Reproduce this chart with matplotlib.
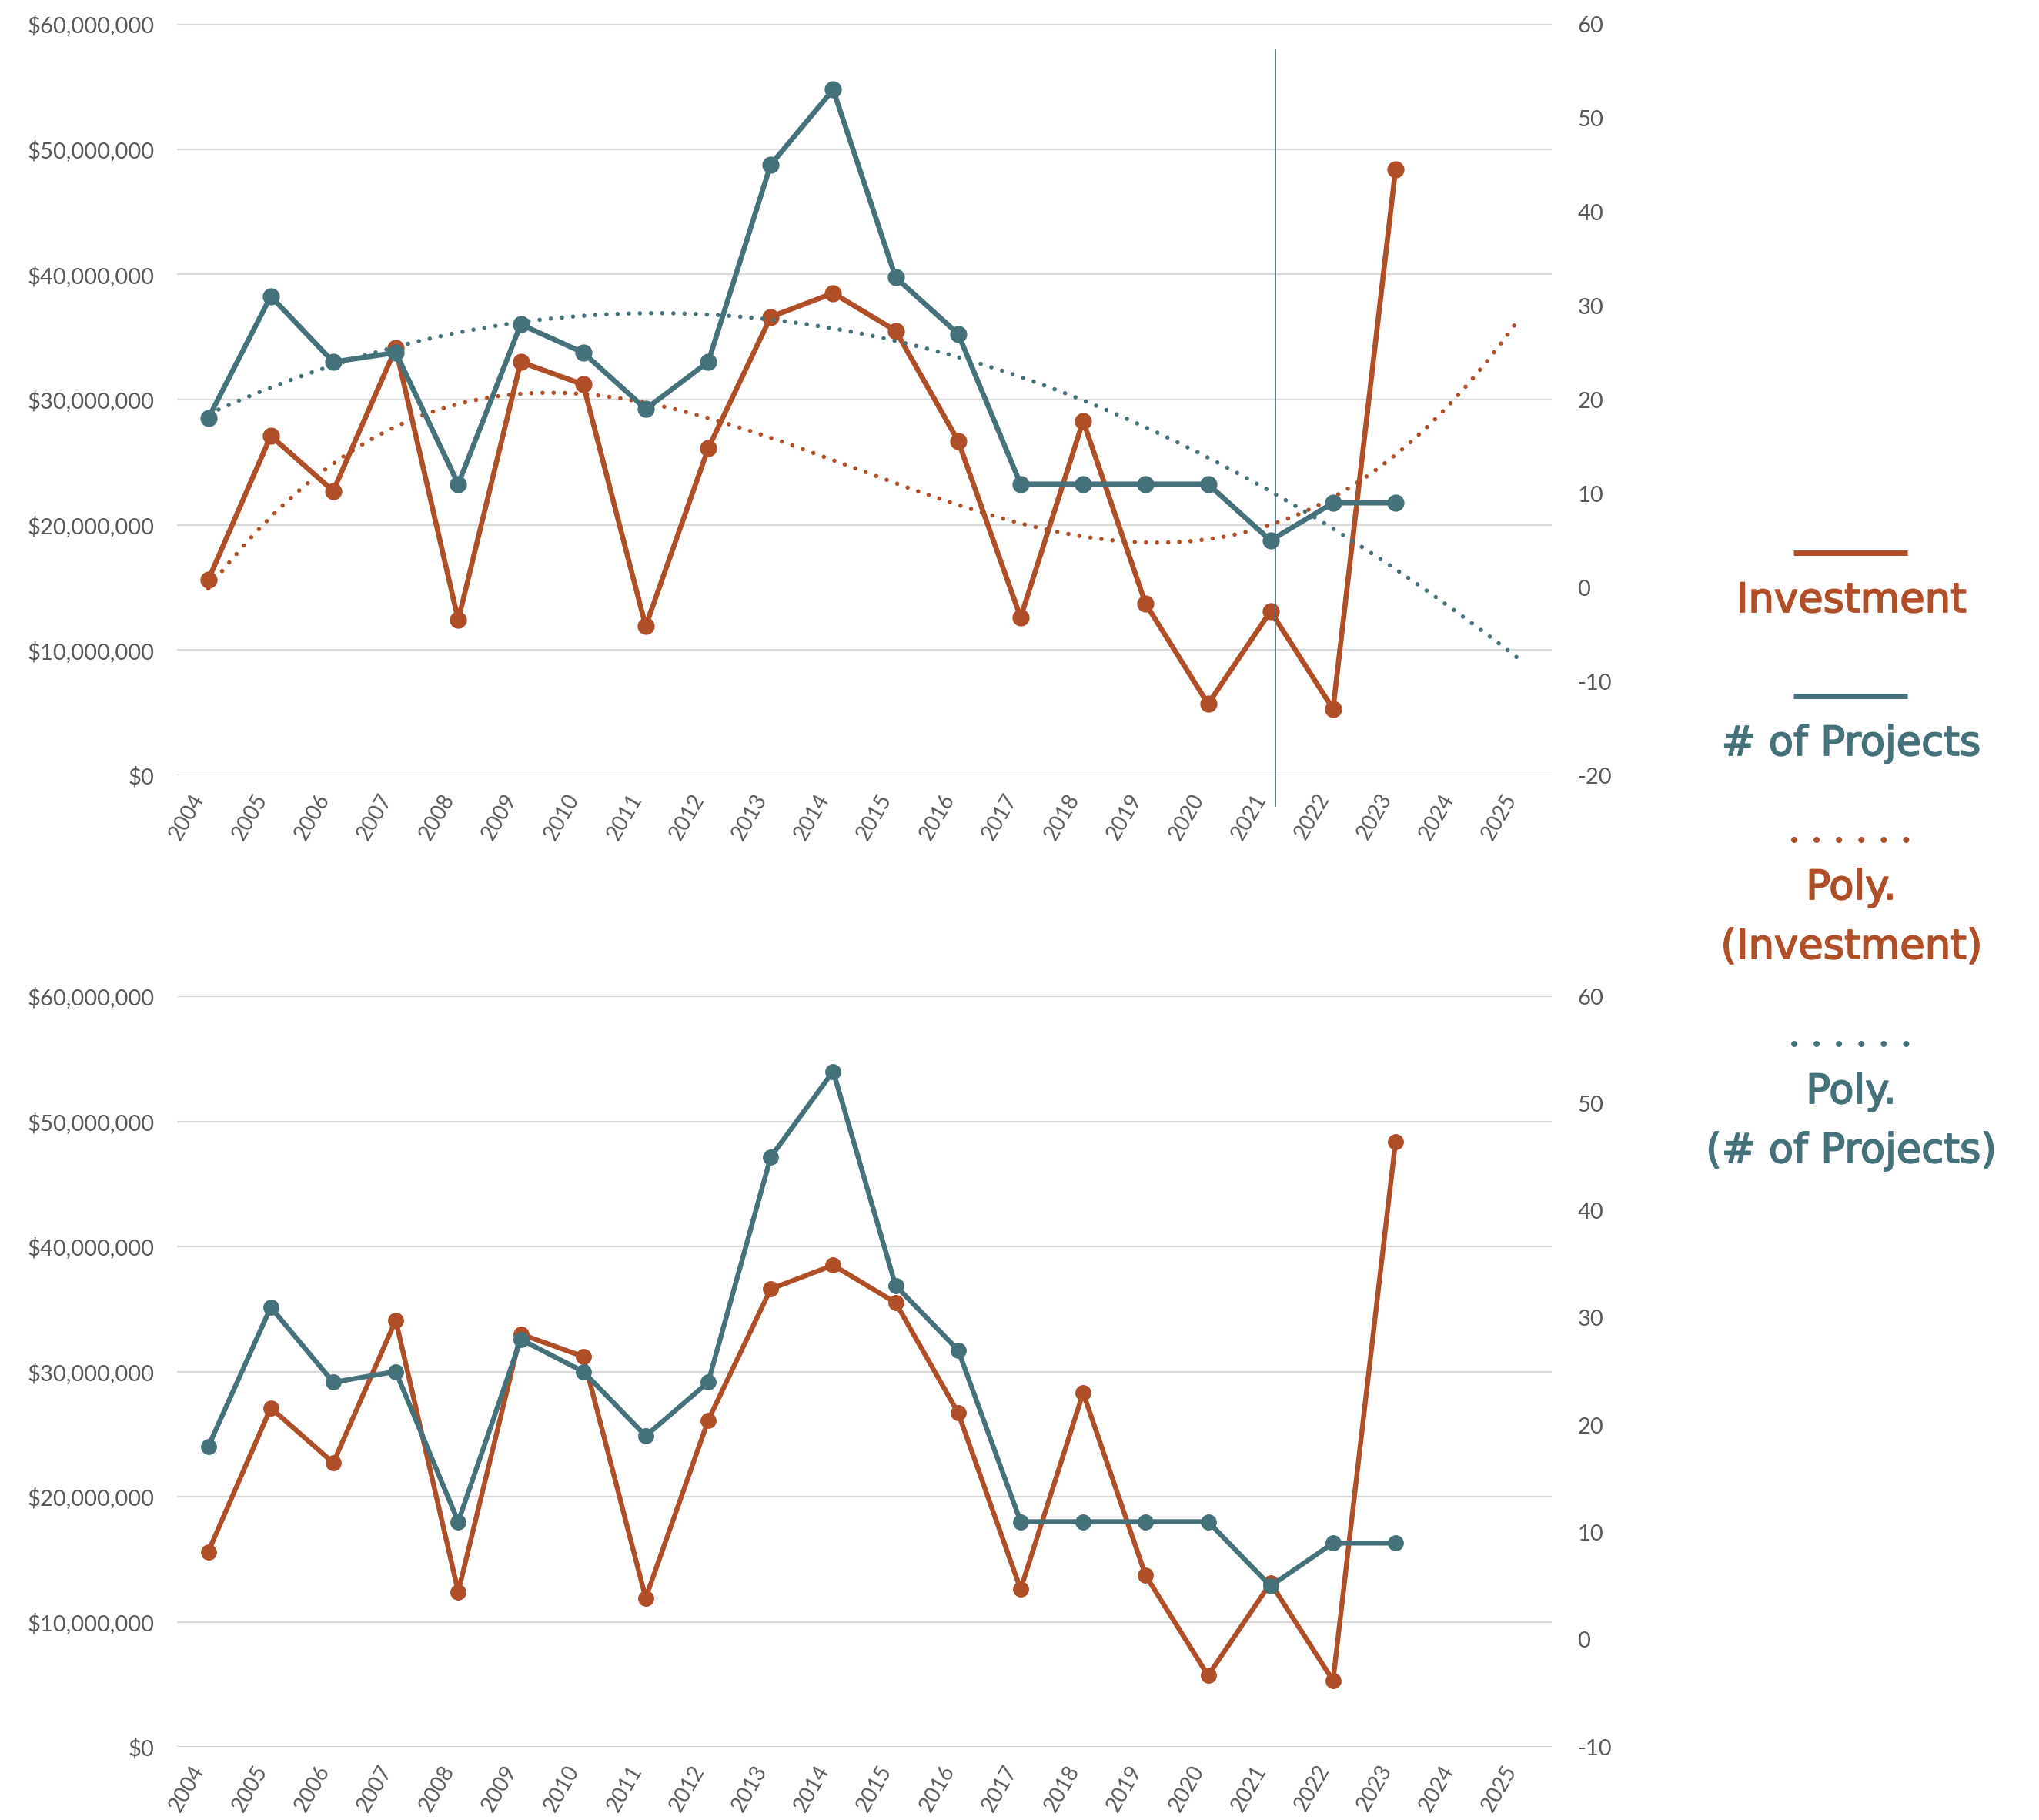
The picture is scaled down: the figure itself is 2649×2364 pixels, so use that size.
import numpy as np
import matplotlib.pyplot as plt
import matplotlib.patheffects as pe
from matplotlib.ticker import FuncFormatter, MultipleLocator
from matplotlib.transforms import ScaledTranslation

# data
years = ["2004", "2005", "2006", "2007", "2008", "2009", "2010", "2011",
         "2012", "2013", "2014", "2015", "2016", "2017", "2018", "2019",
         "2020", "2021", "2022", "2023", "2024", "2025"]
investment_m = [15.6, 27.1, 22.7, 34.1, 12.4, 33.0, 31.2, 11.9, 26.1, 36.6,
                38.5, 35.5, 26.7, 12.6, 28.3, 13.7, 5.7, 13.1, 5.3, 48.4]
projects = [18, 31, 24, 25, 11, 28, 25, 19, 24, 45, 53, 33, 27, 11, 11, 11,
            11, 5, 9, 9]
legend_labels = ["Investment", "# of Projects", "Poly.\n(Investment)",
                 "Poly.\n(# of Projects)"]
marked_year = "2021"

RUST = "#B04E27"
TEAL = "#45717A"
GRID = "#D9D9D9"
TXT = "#595959"

W, H = 2649, 2364
plt.rcParams['font.family'] = ['Lato', 'DejaVu Sans']
plt.rcParams['axes.unicode_minus'] = False
fig = plt.figure(figsize=(W / 100, H / 100), dpi=100)


def px_rect(x0, y0, x1, y1):
    return [x0 / W, 1 - y1 / H, (x1 - x0) / W, (y1 - y0) / H]


def panel(rect, right_lim, with_trend, lw, ms):
    ax = fig.add_axes(rect)
    ax2 = ax.twinx()
    x = np.arange(len(investment_m))
    inv = np.array(investment_m) * 1e6
    ax.plot(x, inv, color=RUST, lw=lw, marker="o", ms=ms, zorder=3)
    ax2.plot(x, projects, color=TEAL, lw=lw, marker="o", ms=ms, zorder=3)

    if with_trend:
        # excel style 3rd order polynomial trendlines, forecast to 2025
        xt = np.linspace(0, len(years) - 1, 200)
        c1 = np.polyfit(x, inv, 3)
        c2 = np.polyfit(x, projects, 3)
        dot = dict(lw=4, ls=(0, (0.01, 2.6)), dash_capstyle="round")
        ax.plot(xt, np.polyval(c1, xt), color=RUST, zorder=2, **dot)
        ax2.plot(xt, np.polyval(c2, xt), color=TEAL, zorder=2, **dot)

    ax.set_xlim(-0.5, len(years) - 0.5)
    ax.set_ylim(0, 60e6)
    ax.yaxis.set_major_locator(MultipleLocator(10e6))
    ax.yaxis.set_major_formatter(FuncFormatter(lambda v, p: f"${v:,.0f}"))
    ax2.set_ylim(*right_lim)
    ax2.yaxis.set_major_locator(MultipleLocator(10))

    ax.set_xticks(range(len(years)))
    ax.set_xticklabels(years, rotation=60, ha="right", va="top")
    shift = ScaledTranslation(12 / 100, 0, fig.dpi_scale_trans)
    for t in ax.get_xticklabels():
        t.set_transform(t.get_transform() + shift)
    ax.tick_params(axis="x", length=0, pad=14, labelsize=20, labelcolor=TXT)
    ax.tick_params(axis="y", length=0, pad=21, labelsize=21, labelcolor=TXT)
    ax2.tick_params(axis="y", length=0, pad=24, labelsize=21, labelcolor=TXT)

    ax.yaxis.grid(True, color=GRID, lw=1.6)
    ax.set_axisbelow(True)
    for a in (ax, ax2):
        for s in a.spines.values():
            s.set_visible(False)
    return ax, ax2


top, top2 = panel(px_rect(230, 31, 2016, 1007), (-20, 60), True, 4.8, 15)
vl = top.axvline(years.index(marked_year), ymin=-0.041, ymax=0.965, color=TEAL,
                 lw=1.2, clip_on=False, zorder=4)
vl.set_transform(vl.get_transform() + ScaledTranslation(6 / 100, 0, fig.dpi_scale_trans))
panel(px_rect(230, 1294, 2016, 2269), (-10, 60), False, 4.6, 14)

# legend drawn on the right, handle above label
leg = fig.add_axes([0, 0, 1, 1])
leg.set_xlim(0, W)
leg.set_ylim(H, 0)
leg.axis("off")
colors = [RUST, TEAL, RUST, TEAL]
handle_y = [718, 904, 1091, 1356]
cx = 2405
for i, (lab, col, hy) in enumerate(zip(legend_labels, colors, handle_y)):
    if i < 2:
        leg.plot([2330, 2478], [hy, hy], color=col, lw=5, solid_capstyle="butt")
    else:
        leg.plot([2331, 2480], [hy, hy], color=col, lw=5.8,
                 ls=(0, (0.01, 3.6)), dash_capstyle="round")
    for j, line in enumerate(lab.split("\n")):
        leg.text(cx, hy + 62 + j * 77, line, color=col, fontsize=38,
                 family="DejaVu Sans", ha="center", va="center",
                 path_effects=[pe.withStroke(linewidth=1.3, foreground=col)])

fig.savefig("out.png", dpi=100)
